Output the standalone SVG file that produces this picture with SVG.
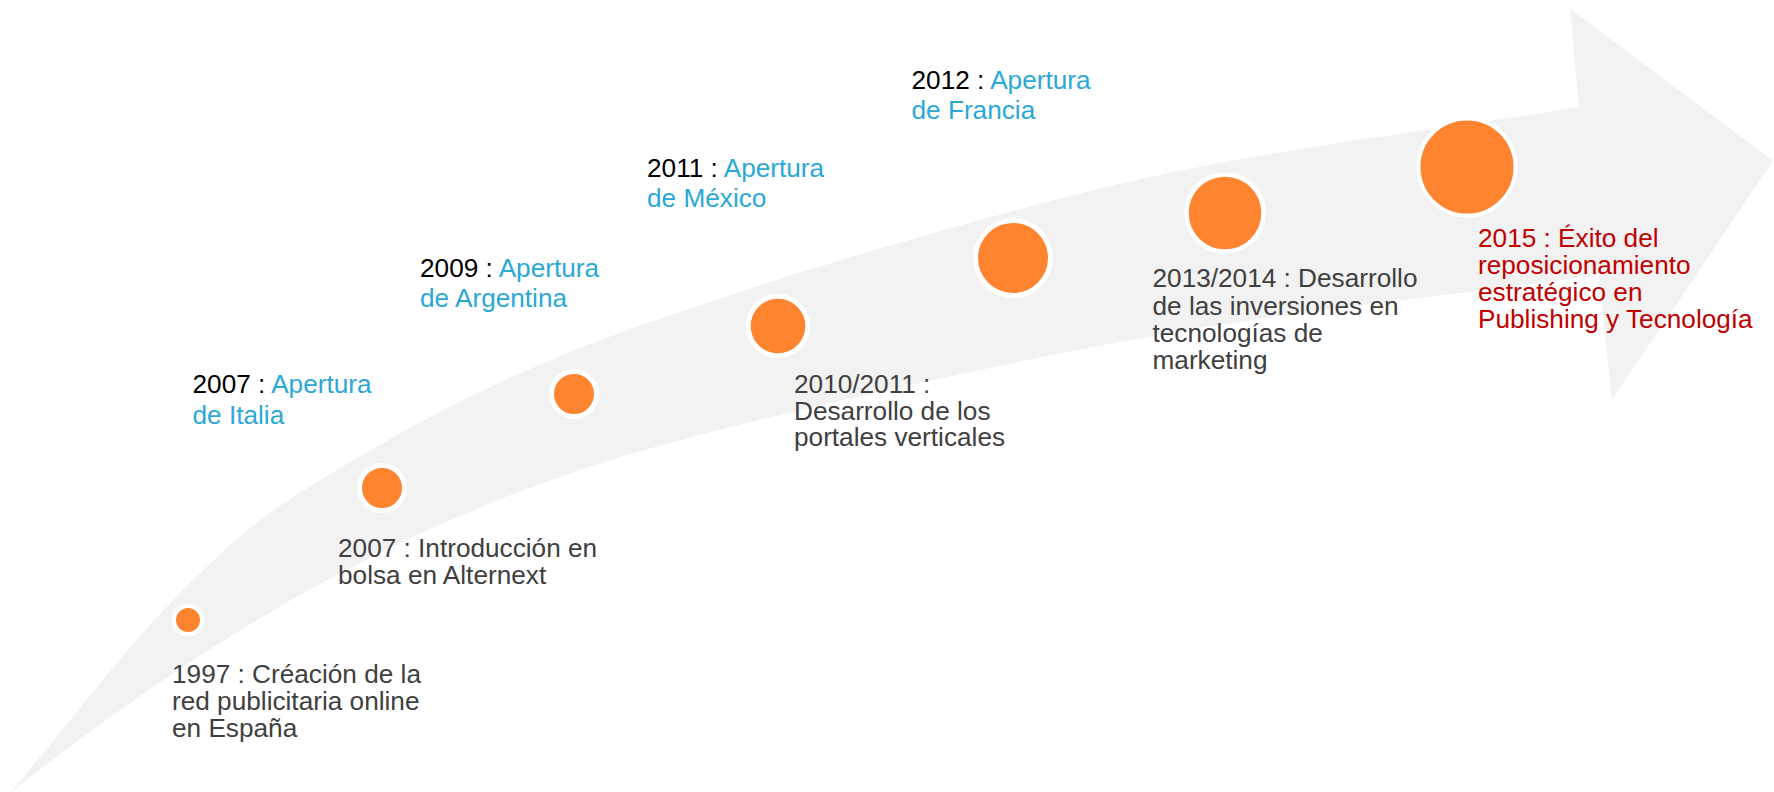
<svg xmlns="http://www.w3.org/2000/svg" width="1774" height="792" viewBox="0 0 1774 792">
  <style>
    text { font-family: "Liberation Sans", Arial, sans-serif; font-size: 26.2px; }
    .desc { fill: #404040; }
    .year { fill: #000000; }
    .open { fill: #2BA8D6; }
    .goal { fill: #C00000; }
    .dot { fill: #FF842F; stroke: #FFFFFF; }
    .band { fill: #F2F2F2; }
  </style>

  <!-- curved arrow band -->
  <g id="connectors">
    <path class="band" d="M10,793
      C67.7,725.3 128.5,643.8 183,590
      C237.5,536.2 264.2,512.8 337,470
      C409.8,427.2 489.5,380.7 620,333
      C750.5,285.3 960.2,221.7 1120,184
      C1279.8,146.3 1426,132.7 1579,107
      L1570,9 L1773,161 L1612,400 L1599,275
      C1442.7,296.7 1293.2,309.7 1130,340
      C966.8,370.3 743.8,420.3 620,457
      C372,533 178,660 10,793 Z"/>
  </g>

  <g id="n1997">
    <circle class="dot" cx="188" cy="620" r="14.25" stroke-width="4.5"/>
    <text class="desc" x="172" y="683">1997 : Créación de la</text>
    <text class="desc" x="172" y="710">red publicitaria online</text>
    <text class="desc" x="172" y="737">en España</text>
  </g>

  <g id="n2007-bolsa">
    <circle class="dot" cx="382" cy="488" r="22.5" stroke-width="5"/>
    <text class="desc" x="338" y="557">2007 : Introducción en</text>
    <text class="desc" x="338" y="584">bolsa en Alternext</text>
  </g>

  <g id="n2007-italia">
    <text x="192.5" y="393"><tspan class="year">2007 : </tspan><tspan class="open">Apertura</tspan></text>
    <text class="open" x="192.5" y="424">de Italia</text>
  </g>

  <g id="n2009">
    <circle class="dot" cx="574" cy="394" r="22.5" stroke-width="5"/>
    <text x="420" y="277"><tspan class="year">2009 : </tspan><tspan class="open">Apertura</tspan></text>
    <text class="open" x="420" y="307">de Argentina</text>
  </g>

  <g id="n2010">
    <circle class="dot" cx="778" cy="326" r="29.7" stroke-width="4.8"/>
    <text class="desc" x="794" y="393">2010/2011 :</text>
    <text class="desc" x="794" y="420">Desarrollo de los</text>
    <text class="desc" x="794" y="446">portales verticales</text>
  </g>

  <g id="n2011">
    <text x="647" y="177"><tspan class="year">2011 : </tspan><tspan class="open">Apertura</tspan></text>
    <text class="open" x="647" y="207">de México</text>
  </g>

  <g id="n2012">
    <circle class="dot" cx="1013" cy="258" r="37.5" stroke-width="5"/>
    <text x="911.5" y="88.5"><tspan class="year">2012 : </tspan><tspan class="open">Apertura</tspan></text>
    <text class="open" x="911.5" y="119">de Francia</text>
  </g>

  <g id="n2013">
    <circle class="dot" cx="1225" cy="213" r="38.5" stroke-width="4.5"/>
    <text class="desc" x="1152.5" y="287">2013/2014 : Desarrollo</text>
    <text class="desc" x="1152.5" y="314.5">de las inversiones en</text>
    <text class="desc" x="1152.5" y="342">tecnologías de</text>
    <text class="desc" x="1152.5" y="368.5">marketing</text>
  </g>

  <g id="n2015">
    <circle class="dot" cx="1467" cy="167" r="48.5" stroke-width="4"/>
    <text class="goal" x="1478" y="247">2015 : Éxito del</text>
    <text class="goal" x="1478" y="274">reposicionamiento</text>
    <text class="goal" x="1478" y="301">estratégico en</text>
    <text class="goal" x="1478" y="328">Publishing y Tecnología</text>
  </g>
</svg>
